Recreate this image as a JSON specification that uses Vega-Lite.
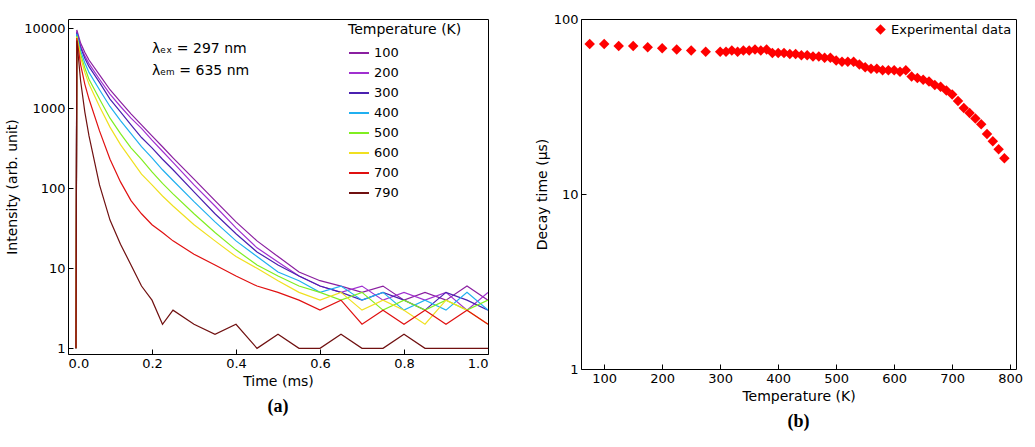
{
  "$schema": "https://vega.github.io/schema/vega-lite/v6.json",
  "padding": {"left": 5, "top": 12, "right": 8, "bottom": 5},
  "spacing": 45,
  "resolve": {"scale": {"color": "independent"}, "legend": {"color": "independent"}},
  "config": {
    "font": "DejaVu Sans",
    "view": {"stroke": "black", "strokeWidth": 1},
    "axis": {"grid": false, "domain": false, "tickColor": "black", "tickSize": -5, "labelFontSize": 13, "titleFontSize": 14, "titleFontWeight": "normal", "labelColor": "black", "titleColor": "black", "labelPadding": 8, "labelFont": "DejaVu Sans", "titleFont": "DejaVu Sans"},
    "legend": {"labelFontSize": 13, "titleFontSize": 14, "titleFontWeight": "normal"},
    "title": {"orient": "bottom", "font": "Liberation Serif", "fontSize": 18, "fontWeight": "bold", "offset": 10}
  },
  "hconcat": [
    {
      "width": 420,
      "height": 335,
      "title": "(a)",
      "layer": [
        {
          "data": {"values": [
            {"t": 0.019, "100": 1, "200": 1, "300": 1, "400": 1, "500": 1, "600": 1, "700": 1, "790": 1},
            {"t": 0.021, "100": 9500, "200": 9000, "300": 8800, "400": 8500, "500": 8000, "600": 7800, "700": 7500, "790": 7000},
            {"t": 0.03, "100": 6500, "200": 6000, "300": 5700, "400": 5200, "500": 4700, "600": 4300, "700": 3500, "790": 2200},
            {"t": 0.04, "100": 5000, "200": 4500, "300": 4200, "400": 3700, "500": 3200, "600": 2800, "700": 2000, "790": 900},
            {"t": 0.05, "100": 4000, "200": 3600, "300": 3300, "400": 2800, "500": 2300, "600": 2000, "700": 1300, "790": 450},
            {"t": 0.075, "100": 2600, "200": 2300, "300": 2100, "400": 1700, "500": 1300, "600": 1050, "700": 520, "790": 110},
            {"t": 0.1, "100": 1700, "200": 1500, "300": 1300, "400": 1050, "500": 750, "600": 580, "700": 230, "790": 40},
            {"t": 0.125, "100": 1200, "200": 1050, "300": 900, "400": 700, "500": 480, "600": 350, "700": 120, "790": 20},
            {"t": 0.15, "100": 850, "200": 750, "300": 620, "400": 480, "500": 320, "600": 230, "700": 70, "790": 11},
            {"t": 0.175, "100": 620, "200": 560, "300": 430, "400": 330, "500": 230, "600": 150, "700": 48, "790": 6},
            {"t": 0.2, "100": 450, "200": 400, "300": 320, "400": 240, "500": 160, "600": 110, "700": 35, "790": 4},
            {"t": 0.225, "100": 330, "200": 290, "300": 230, "400": 170, "500": 115, "600": 80, "700": 28, "790": 2},
            {"t": 0.25, "100": 240, "200": 210, "300": 170, "400": 125, "500": 85, "600": 60, "700": 22, "790": 3},
            {"t": 0.3, "100": 130, "200": 110, "300": 90, "400": 68, "500": 48, "600": 35, "700": 15, "790": 2},
            {"t": 0.35, "100": 70, "200": 60, "300": 48, "400": 38, "500": 28, "600": 22, "700": 11, "790": 1.5},
            {"t": 0.4, "100": 38, "200": 32, "300": 27, "400": 22, "500": 17, "600": 14, "700": 8, "790": 2},
            {"t": 0.45, "100": 22, "200": 18, "300": 16, "400": 14, "500": 11, "600": 10, "700": 6, "790": 1},
            {"t": 0.5, "100": 14, "200": 12, "300": 11, "400": 9, "500": 8, "600": 7, "700": 5, "790": 1.5},
            {"t": 0.55, "100": 9, "200": 8, "300": 8, "400": 7, "500": 6, "600": 5, "700": 4, "790": 1},
            {"t": 0.6, "100": 7, "200": 6, "300": 6, "400": 5, "500": 5, "600": 4, "700": 3, "790": 1},
            {"t": 0.65, "100": 6, "200": 5, "300": 5, "400": 6, "500": 4, "600": 5, "700": 4, "790": 1.5},
            {"t": 0.7, "100": 5, "200": 6, "300": 4, "400": 4, "500": 5, "600": 3, "700": 2, "790": 1},
            {"t": 0.75, "100": 6, "200": 4, "300": 5, "400": 5, "500": 3, "600": 4, "700": 3, "790": 1},
            {"t": 0.8, "100": 4, "200": 5, "300": 4, "400": 3, "500": 4, "600": 3, "700": 2, "790": 1.5},
            {"t": 0.85, "100": 5, "200": 4, "300": 3, "400": 4, "500": 3, "600": 2, "700": 3, "790": 1},
            {"t": 0.9, "100": 4, "200": 5, "300": 5, "400": 3, "500": 4, "600": 4, "700": 2, "790": 1},
            {"t": 0.95, "100": 6, "200": 3, "300": 4, "400": 5, "500": 3, "600": 3, "700": 3, "790": 1},
            {"t": 1.0, "100": 4, "200": 5, "300": 3, "400": 3, "500": 4, "600": 2, "700": 2, "790": 1}
          ]},
          "transform": [{"fold": ["100", "200", "300", "400", "500", "600", "700", "790"], "as": ["T", "I"]}],
          "mark": {"type": "line", "strokeWidth": 1.2, "clip": true},
          "encoding": {
            "x": {"field": "t", "type": "quantitative", "title": "Time (ms)", "scale": {"domain": [0, 1], "nice": false}, "axis": {"values": [0, 0.2, 0.4, 0.6, 0.8, 1.0], "format": ".1f"}},
            "y": {"field": "I", "type": "quantitative", "title": "Intensity (arb. unit)", "scale": {"type": "log", "domain": [0.85, 13000], "nice": false}, "axis": {"values": [1, 10, 100, 1000, 10000], "format": "d"}},
            "color": {"field": "T", "type": "nominal", "title": "Temperature (K)",
              "scale": {"domain": ["100", "200", "300", "400", "500", "600", "700", "790"], "range": ["#8a1fa0", "#a030d0", "#4a20b0", "#20b0f0", "#80ee20", "#f0e020", "#e01010", "#701010"]},
              "legend": {"orient": "none", "legendX": 280, "legendY": 4, "symbolType": "stroke", "symbolStrokeWidth": 2, "symbolSize": 400, "rowPadding": 2}}
          }
        },
        {
          "data": {"values": [{"x": 0.2, "y": 5500, "label": "λₑₓ = 297 nm"}, {"x": 0.2, "y": 2900, "label": "λₑₘ = 635 nm"}]},
          "mark": {"type": "text", "align": "left", "fontSize": 14, "font": "DejaVu Sans"},
          "encoding": {"x": {"field": "x", "type": "quantitative"}, "y": {"field": "y", "type": "quantitative"}, "text": {"field": "label"}}
        }
      ]
    },
    {
      "width": 435,
      "height": 350,
      "title": "(b)",
      "data": {"values": [
        {"T": 75, "tau": 72}, {"T": 100, "tau": 72}, {"T": 125, "tau": 70}, {"T": 150, "tau": 70}, {"T": 175, "tau": 69},
        {"T": 200, "tau": 68}, {"T": 225, "tau": 67}, {"T": 250, "tau": 66}, {"T": 275, "tau": 65}, {"T": 300, "tau": 65},
        {"T": 310, "tau": 65}, {"T": 320, "tau": 66}, {"T": 330, "tau": 65}, {"T": 340, "tau": 66}, {"T": 350, "tau": 66},
        {"T": 360, "tau": 67}, {"T": 370, "tau": 66}, {"T": 380, "tau": 67}, {"T": 390, "tau": 64}, {"T": 400, "tau": 64},
        {"T": 410, "tau": 64}, {"T": 420, "tau": 63}, {"T": 430, "tau": 63}, {"T": 440, "tau": 62}, {"T": 450, "tau": 62},
        {"T": 460, "tau": 61}, {"T": 470, "tau": 61}, {"T": 480, "tau": 60}, {"T": 490, "tau": 60}, {"T": 500, "tau": 58},
        {"T": 510, "tau": 57}, {"T": 520, "tau": 57}, {"T": 530, "tau": 57}, {"T": 540, "tau": 55}, {"T": 550, "tau": 53},
        {"T": 560, "tau": 52}, {"T": 570, "tau": 52}, {"T": 580, "tau": 51}, {"T": 590, "tau": 51}, {"T": 600, "tau": 51},
        {"T": 610, "tau": 50}, {"T": 620, "tau": 51}, {"T": 630, "tau": 47}, {"T": 640, "tau": 46}, {"T": 650, "tau": 45},
        {"T": 660, "tau": 44}, {"T": 670, "tau": 42}, {"T": 680, "tau": 41}, {"T": 690, "tau": 39}, {"T": 700, "tau": 37},
        {"T": 710, "tau": 34}, {"T": 720, "tau": 31}, {"T": 730, "tau": 29}, {"T": 740, "tau": 27}, {"T": 750, "tau": 25},
        {"T": 760, "tau": 22}, {"T": 770, "tau": 20}, {"T": 780, "tau": 18}, {"T": 790, "tau": 16}
      ]},
      "mark": {"type": "point", "shape": "diamond", "filled": true, "size": 110, "opacity": 1},
      "encoding": {
        "x": {"field": "T", "type": "quantitative", "title": "Temperature (K)", "scale": {"domain": [60, 810], "nice": false}, "axis": {"values": [100, 200, 300, 400, 500, 600, 700, 800]}},
        "y": {"field": "tau", "type": "quantitative", "title": "Decay time (μs)", "scale": {"type": "log", "domain": [1, 100], "nice": false}, "axis": {"values": [1, 10, 100], "format": "d"}},
        "color": {"datum": "Experimental data", "type": "nominal", "scale": {"domain": ["Experimental data"], "range": ["#ff0000"]},
          "legend": {"title": null, "orient": "top-right", "offset": 4, "symbolType": "diamond", "symbolSize": 110, "labelFontSize": 13}}
      }
    }
  ]
}
